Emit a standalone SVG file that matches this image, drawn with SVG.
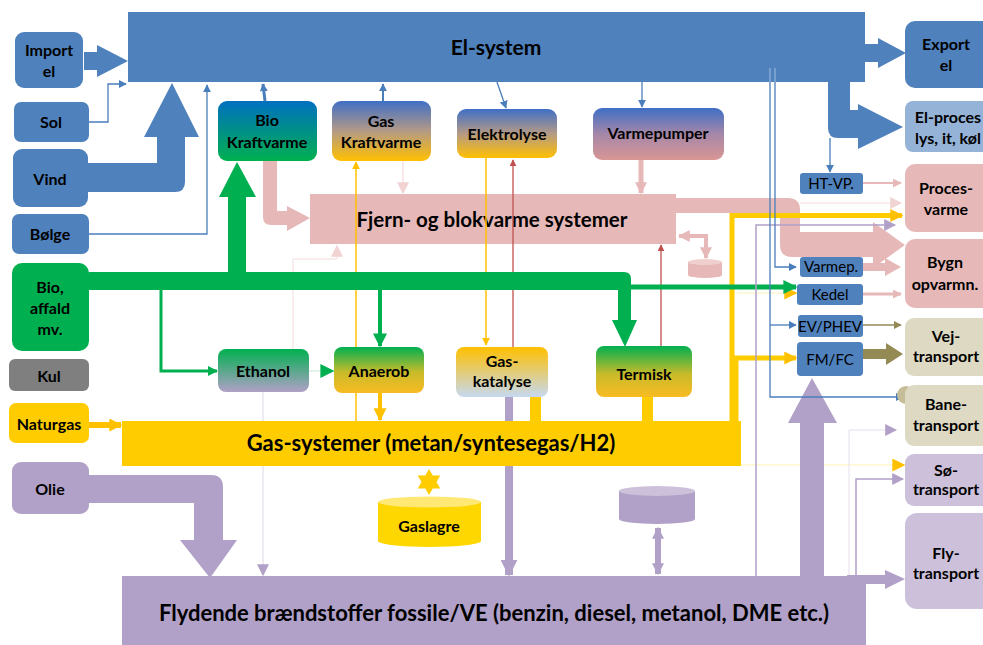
<svg xmlns="http://www.w3.org/2000/svg" width="983" height="645" viewBox="0 0 983 645">
<defs>
<style>
.t{font-family:Lato,"Open Sans","Liberation Sans",sans-serif;font-weight:700;fill:#000;text-anchor:middle}
.big{font-size:22px}
.n{font-size:16px}
.m{font-size:16px}
.s{font-size:15px;font-weight:400}
.blue{fill:#4f81bd}
.thinB{fill:none;stroke:#4a7ebb;stroke-width:1.3}
</style>
<linearGradient id="gBG" x1="0" y1="0" x2="0" y2="1"><stop offset="0" stop-color="#0070c0"/><stop offset="1" stop-color="#00b050"/></linearGradient>
<linearGradient id="gBY" x1="0" y1="0" x2="0" y2="1"><stop offset="0" stop-color="#3f6fc6"/><stop offset="0.5" stop-color="#b49a86"/><stop offset="1" stop-color="#ffc000"/></linearGradient>
<linearGradient id="gBP" x1="0" y1="0" x2="0" y2="1"><stop offset="0" stop-color="#3f6fc6"/><stop offset="0.5" stop-color="#a587a8"/><stop offset="1" stop-color="#d99694"/></linearGradient>
<linearGradient id="gGP" x1="0" y1="0" x2="0" y2="1"><stop offset="0" stop-color="#00b050"/><stop offset="1" stop-color="#b1a0c7"/></linearGradient>
<linearGradient id="gGO" x1="0" y1="0" x2="0" y2="1"><stop offset="0" stop-color="#00b050"/><stop offset="0.55" stop-color="#c8bb2a"/><stop offset="1" stop-color="#f9bb22"/></linearGradient>
<linearGradient id="gYB" x1="0" y1="0" x2="0" y2="1"><stop offset="0" stop-color="#ffc000"/><stop offset="1" stop-color="#c6d9f1"/></linearGradient>
<marker id="aB" markerUnits="userSpaceOnUse" markerWidth="8" markerHeight="8" viewBox="0 0 10 10" refX="9" refY="5" orient="auto"><path d="M0,0 L10,5 L0,10 z" fill="#4a7ebb"/></marker>
<marker id="aP" markerUnits="userSpaceOnUse" markerWidth="12" markerHeight="12" viewBox="0 0 10 10" refX="9" refY="5" orient="auto-start-reverse"><path d="M0,0 L10,5 L0,10 z" fill="#e6b9b8"/></marker>
<marker id="aPs" markerUnits="userSpaceOnUse" markerWidth="9" markerHeight="9" viewBox="0 0 10 10" refX="9" refY="5" orient="auto"><path d="M0,0 L10,5 L0,10 z" fill="#e6b9b8"/></marker>
<marker id="aPp" markerUnits="userSpaceOnUse" markerWidth="12" markerHeight="12" viewBox="0 0 10 10" refX="9" refY="5" orient="auto"><path d="M0,0 L10,5 L0,10 z" fill="#f0d3d2"/></marker>
<marker id="aR" markerUnits="userSpaceOnUse" markerWidth="7" markerHeight="7" viewBox="0 0 10 10" refX="9" refY="5" orient="auto"><path d="M0,0 L10,5 L0,10 z" fill="#c0504d"/></marker>
<marker id="aY" markerUnits="userSpaceOnUse" markerWidth="8" markerHeight="8" viewBox="0 0 10 10" refX="9" refY="5" orient="auto"><path d="M0,0 L10,5 L0,10 z" fill="#ffc000"/></marker>
<marker id="aYm" markerUnits="userSpaceOnUse" markerWidth="13" markerHeight="13" viewBox="0 0 10 10" refX="9" refY="5" orient="auto"><path d="M0,0 L10,5 L0,10 z" fill="#ffc000"/></marker>
<marker id="aG" markerUnits="userSpaceOnUse" markerWidth="10" markerHeight="10" viewBox="0 0 10 10" refX="9" refY="5" orient="auto"><path d="M0,0 L10,5 L0,10 z" fill="#00b050"/></marker>
<marker id="aGm" markerUnits="userSpaceOnUse" markerWidth="14" markerHeight="14" viewBox="0 0 10 10" refX="9" refY="5" orient="auto"><path d="M0,0 L10,5 L0,10 z" fill="#00b050"/></marker>
<marker id="aU" markerUnits="userSpaceOnUse" markerWidth="12" markerHeight="12" viewBox="0 0 10 10" refX="9" refY="5" orient="auto-start-reverse"><path d="M0,0 L10,5 L0,10 z" fill="#b1a0c7"/></marker>
<marker id="aUl" markerUnits="userSpaceOnUse" markerWidth="17" markerHeight="17" viewBox="0 0 10 10" refX="9" refY="5" orient="auto"><path d="M0,0 L10,5 L0,10 z" fill="#b1a0c7"/></marker>
<marker id="aO" markerUnits="userSpaceOnUse" markerWidth="8" markerHeight="8" viewBox="0 0 10 10" refX="9" refY="5" orient="auto"><path d="M0,0 L10,5 L0,10 z" fill="#948a54"/></marker>
</defs>
<rect width="983" height="645" fill="#fff"/>

<g id="el-system"><rect x="128" y="12" width="737" height="70" class="blue"/><text class="t" style="font-size:21px" x="496" y="55">El-system</text></g>
<g id="fjernvarme"><rect x="310" y="194" width="366" height="50" fill="#e6b9b8"/><text class="t" style="font-size:20.5px" x="492" y="227">Fjern- og blokvarme systemer</text></g>

<g id="connectors">
<path d="M775,68 V82 M770,68 V82" stroke="#8fb0d8" stroke-width="1.3"/>
<polygon points="84,52 97,52 97,45 128,61 97,77 97,70 84,70" class="blue"/>
<path d="M89,122 H108 V84 H126" class="thinB" marker-end="url(#aB)"/>
<path d="M88,163 H157 V137 H144 L172,83 L199,137 H185 V182 Q185,192 175,192 H88 Z" class="blue"/>
<path d="M89,234 H207 V85" class="thinB" marker-end="url(#aB)"/>
<path d="M265,101 L263,84" stroke="#4a7ebb" stroke-width="3" marker-end="url(#aB)"/>
<path d="M383,101 V84" stroke="#4a7ebb" stroke-width="2" marker-end="url(#aB)"/>
<path d="M497,82 L506,108" class="thinB" marker-end="url(#aB)"/>
<path d="M642,82 V107" class="thinB" marker-end="url(#aB)"/>
<polygon points="865,44 878,44 878,38 906,53 878,68 878,62 865,62" class="blue"/>
<path d="M828,82 H850 V110 H858 V104 L903,127 L858,149 V138 H838 Q828,138 828,128 Z" class="blue"/>
<path d="M830,138 V172" class="thinB" marker-end="url(#aB)"/>
<path d="M263,161 H277 V211 H287 V206 L310,218 L287,231 V225 H271 Q263,225 263,217 Z" fill="#e6b9b8"/>
<path d="M403,161 V193" stroke="#f0d3d2" stroke-width="1" marker-end="url(#aPp)"/>
<path d="M641,160 V193" stroke="#e6b9b8" stroke-width="5" marker-end="url(#aP)"/>
<path d="M676,198 H788 Q800,198 800,210 V232 H873 V222 L905,245 L873,268 V257 H792 Q780,257 780,245 V213 H676 Z" fill="#e6b9b8"/>
<path d="M800,203 H901" stroke="#f2dcdb" stroke-width="1" marker-end="url(#aPp)"/>
<path d="M862,183 H901" stroke="#e6b9b8" stroke-width="2" marker-end="url(#aPs)"/>
<path d="M863,263 H885 V258 L901,267 L885,276 V271 H863 Z" fill="#e6b9b8"/>
<path d="M863,294 H901" stroke="#e6b9b8" stroke-width="3" marker-end="url(#aPs)"/>
<path d="M679,236 H706 V258" fill="none" stroke="#e6b9b8" stroke-width="4" marker-start="url(#aP)" marker-end="url(#aP)"/>
<path d="M293,349 V259 H337 V246" fill="none" stroke="#f2dcdb" stroke-width="1" marker-end="url(#aPp)"/>
<path d="M513,347 V160" stroke="#c0504d" stroke-width="1.3" marker-end="url(#aR)"/>
<path d="M661,346 V245" stroke="#c0504d" stroke-width="1.3" marker-end="url(#aR)"/>
<path d="M486,158 V345" stroke="#ffc000" stroke-width="1.5" marker-end="url(#aY)"/>
<path d="M356,421 V162" stroke="#ffc000" stroke-width="1.5" marker-end="url(#aY)"/>
<path d="M89,425 H121" stroke="#ffc000" stroke-width="6" marker-end="url(#aYm)"/>
<path d="M380,393 V420" stroke="#ffc000" stroke-width="4" marker-end="url(#aYm)"/>
<rect x="530" y="396" width="11" height="26" fill="#ffcc00"/>
<rect x="642" y="397" width="11" height="25" fill="#ffcc00"/>
<path d="M732,422 V215.5 H902" fill="none" stroke="#ffcc00" stroke-width="5" marker-end="url(#aYm)"/>
<path d="M736,422 V358 H796" fill="none" stroke="#ffcc00" stroke-width="5" marker-end="url(#aYm)"/>
<path d="M737,293 H796" stroke="#fff2b3" stroke-width="1" marker-end="url(#aYm)"/>
<path d="M741,465 H904" stroke="#fff2b3" stroke-width="1" marker-end="url(#aYm)"/>
<rect x="228" y="196" width="18" height="80" fill="#00b050"/>
<polygon points="219,197 256,197 237,162" fill="#00b050"/>
<path d="M89,272 H624 Q631,272 631,279 V320 H637 L625,347 L612,320 H618 V290 H89 Z" fill="#00b050"/>
<path d="M630,287 H796" stroke="#00b050" stroke-width="5" marker-end="url(#aGm)"/>
<path d="M161,290 V371 H217" fill="none" stroke="#00b050" stroke-width="3" marker-end="url(#aG)"/>
<path d="M380,290 V346" stroke="#00b050" stroke-width="4" marker-end="url(#aGm)"/>
<path d="M309,371 H333" stroke="#c6e8d3" stroke-width="1" marker-end="url(#aGm)"/>
<path d="M89,475 H211 Q223,475 223,487 V540 H237 L210,578 L180,540 H194 V503 H89 Z" fill="#b1a0c7"/>
<path d="M263,392 V575" stroke="#ddd7e6" stroke-width="1" marker-end="url(#aU)"/>
<path d="M509,396 V575" stroke="#b1a0c7" stroke-width="8" marker-end="url(#aUl)"/>
<path d="M658,528 V574" stroke="#b1a0c7" stroke-width="6" marker-start="url(#aU)" marker-end="url(#aU)"/>
<polygon points="800,577 800,423 788,423 812,378 837,423 824,423 824,577" fill="#b1a0c7"/>
<path d="M756,577 V225 H895" fill="none" stroke="#b1a0c7" stroke-width="1.5" marker-end="url(#aU)"/>
<path d="M849,577 V430 H896" fill="none" stroke="#e4dfec" stroke-width="1" marker-end="url(#aU)"/>
<path d="M856,577 V479 H903" fill="none" stroke="#b1a0c7" stroke-width="1.5" marker-end="url(#aU)"/>
<path d="M847,575 H885 V570 L905,579 L885,589 V584 H847 Z" fill="#b1a0c7"/>
<path d="M775,82 V267 H796" class="thinB" marker-end="url(#aB)"/>
<path d="M770,82 V397 H903" class="thinB" marker-end="url(#aB)"/>
<path d="M770,325 H796" class="thinB" marker-end="url(#aB)"/>
<path d="M863,325 H901" stroke="#948a54" stroke-width="1.5" marker-end="url(#aO)"/>
<path d="M863,349 H886 V343 L903,354 L886,365 V359 H863 Z" fill="#948a54"/>
</g>

<g id="gas-system"><rect x="122" y="421" width="619" height="45" fill="#ffcc00"/><text class="t big" x="431" y="451">Gas-systemer (metan/syntesegas/H2)</text></g>
<g id="flydende"><rect x="122" y="576" width="744" height="69" fill="#b1a0c7"/><text class="t big" x="494" y="621">Flydende brændstoffer fossile/VE (benzin, diesel, metanol, DME etc.)</text></g>

<g id="import-el"><rect x="15" y="32" width="68" height="56" rx="9" class="blue"/><text class="t n" x="49" y="56">Import</text><text class="t n" x="49" y="77">el</text></g>
<g id="sol"><rect x="14" y="102" width="75" height="40" rx="7" class="blue"/><text class="t n" x="51" y="128">Sol</text></g>
<g id="vind"><rect x="13" y="149" width="75" height="58" rx="9" class="blue"/><text class="t n" x="50" y="185">Vind</text></g>
<g id="bolge"><rect x="12" y="214" width="77" height="40" rx="7" class="blue"/><text class="t n" x="50" y="240">Bølge</text></g>
<g id="bio-affald"><rect x="12" y="263" width="77" height="88" rx="10" fill="#00b050"/><text class="t n" x="50" y="293">Bio,</text><text class="t n" x="50" y="314">affald</text><text class="t n" x="50" y="335">mv.</text></g>
<g id="kul"><rect x="9" y="359" width="80" height="32" rx="6" fill="#7f7f7f"/><text class="t n" x="49" y="382">Kul</text></g>
<g id="naturgas"><rect x="9" y="403" width="80" height="40" rx="7" fill="#ffcc00"/><text class="t m" x="49" y="430">Naturgas</text></g>
<g id="olie"><rect x="12" y="462" width="77" height="52" rx="9" fill="#b1a0c7"/><text class="t n" x="50" y="495">Olie</text></g>

<g id="bio-kraftvarme"><rect x="218" y="101" width="99" height="60" rx="9" fill="url(#gBG)"/><text class="t m" x="267" y="126">Bio</text><text class="t m" x="267" y="148">Kraftvarme</text></g>
<g id="gas-kraftvarme"><rect x="332" y="101" width="99" height="60" rx="9" fill="url(#gBY)"/><text class="t m" x="381" y="127">Gas</text><text class="t m" x="381" y="148">Kraftvarme</text></g>
<g id="elektrolyse"><rect x="457" y="109" width="100" height="49" rx="9" fill="url(#gBY)"/><text class="t m" x="507" y="140">Elektrolyse</text></g>
<g id="varmepumper"><rect x="593" y="108" width="131" height="52" rx="9" fill="url(#gBP)"/><text class="t m" x="658" y="139">Varmepumper</text></g>

<g id="ethanol"><rect x="218" y="349" width="91" height="43" rx="8" fill="url(#gGP)"/><text class="t m" x="263" y="377">Ethanol</text></g>
<g id="anaerob"><rect x="334" y="347" width="90" height="46" rx="8" fill="url(#gGO)"/><text class="t m" x="379" y="377">Anaerob</text></g>
<g id="gas-katalyse"><rect x="456" y="347" width="92" height="50" rx="8" fill="url(#gYB)"/><text class="t m" x="502" y="367">Gas-</text><text class="t m" x="502" y="387">katalyse</text></g>
<g id="termisk"><rect x="596" y="346" width="96" height="51" rx="8" fill="url(#gGO)"/><text class="t m" x="644" y="380">Termisk</text></g>

<g id="fjern-lager"><path d="M688,262 V275 A17,3 0 0 0 722,275 V262 Z" fill="#e6b9b8"/><ellipse cx="705" cy="262" rx="17" ry="3" fill="#f0d0cf"/></g>
<g id="gaslagre"><path d="M378,502 V541 A51.5,6 0 0 0 481,541 V502 Z" fill="#ffd700"/><ellipse cx="429.5" cy="502" rx="51.5" ry="5.5" fill="#ffe873"/><polygon points="429,469 432.75,475.5 440.26,475.5 436.5,482 440.26,488.5 432.75,488.5 429,495 425.25,488.5 417.74,488.5 421.5,482 417.74,475.5 425.25,475.5" fill="#ffcc00"/><text class="t m" x="429" y="532">Gaslagre</text></g>
<g id="flydende-lager"><path d="M619,491 V519 A38,5 0 0 0 695,519 V491 Z" fill="#b1a0c7"/><ellipse cx="657" cy="491" rx="38" ry="5" fill="#ccc0da"/></g>

<g id="ht-vp"><rect x="800" y="173" width="63" height="21" rx="3" class="blue"/><text class="t s" x="831" y="189">HT-VP.</text></g>
<g id="varmep"><rect x="800" y="257" width="63" height="20" rx="3" class="blue"/><text class="t s" x="831" y="272">Varmep.</text></g>
<g id="kedel"><rect x="797" y="284" width="66" height="21" rx="3" class="blue"/><text class="t s" x="830" y="300">Kedel</text></g>
<g id="ev-phev"><rect x="798" y="315" width="65" height="22" rx="3" class="blue"/><text class="t s" x="830" y="332">EV/PHEV</text></g>
<g id="fm-fc"><rect x="797" y="342" width="66" height="34" rx="4" class="blue"/><text class="t s" x="830" y="365">FM/FC</text></g>

<g id="export-el"><rect x="905" y="21" width="95" height="67" rx="10" class="blue"/><text class="t n" x="946" y="50">Export</text><text class="t n" x="946" y="71">el</text></g>
<g id="el-proces"><rect x="905" y="101" width="95" height="51" rx="8" fill="#95b3d7"/><text class="t n" x="948" y="123">El-proces</text><text class="t n" x="948" y="144">lys, it, køl</text></g>
<g id="procesvarme"><rect x="905" y="164" width="95" height="68" rx="10" fill="#e6b9b8"/><text class="t n" x="946" y="194">Proces-</text><text class="t n" x="946" y="215">varme</text></g>
<g id="bygn"><rect x="905" y="239" width="95" height="69" rx="10" fill="#e6b9b8"/><text class="t n" x="945" y="268">Bygn</text><text class="t n" x="945" y="290">opvarmn.</text></g>
<g id="vejtransport"><rect x="905" y="318" width="95" height="58" rx="9" fill="#ddd9c3"/><text class="t n" x="946" y="342">Vej-</text><text class="t n" x="946" y="362">transport</text></g>
<g id="banetransport"><circle cx="906" cy="395" r="9" fill="#c4bd97"/><rect x="905" y="385" width="95" height="61" rx="9" fill="#ddd9c3"/><text class="t n" x="946" y="410">Bane-</text><text class="t n" x="946" y="431">transport</text></g>
<g id="sotransport"><rect x="905" y="454" width="95" height="52" rx="9" fill="#ccc0da"/><text class="t n" x="946" y="476">Sø-</text><text class="t n" x="946" y="495">transport</text></g>
<g id="flytransport"><rect x="905" y="513" width="95" height="96" rx="12" fill="#ccc0da"/><text class="t n" x="946" y="559">Fly-</text><text class="t n" x="946" y="579">transport</text></g>
</svg>
